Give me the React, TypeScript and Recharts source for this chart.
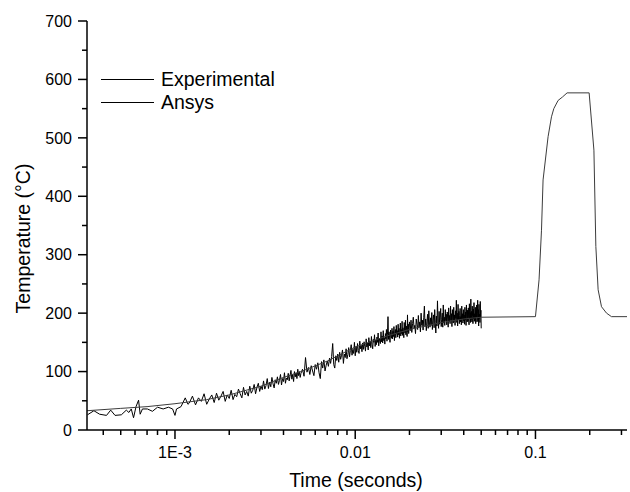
import React from "react";
import { LineChart, Line, XAxis, YAxis } from "recharts";

const FONT = "'Liberation Sans', Arial, Helvetica, sans-serif";

const X_DOMAIN: [number, number] = [0.000325, 0.322];
const Y_DOMAIN: [number, number] = [0, 700];

const xMajorTicks = [0.001, 0.01, 0.1];
const xTickLabels = ["1E-3", "0.01", "0.1"];
const xMinorTicks = [
  0.0004, 0.0005, 0.0006, 0.0007, 0.0008, 0.0009,
  0.002, 0.003, 0.004, 0.005, 0.006, 0.007, 0.008, 0.009,
  0.02, 0.03, 0.04, 0.05, 0.06, 0.07, 0.08, 0.09,
  0.2, 0.3,
];
const yMajorTicks = [0, 100, 200, 300, 400, 500, 600, 700];
const yMinorTicks = [50, 150, 250, 350, 450, 550, 650];

const seriesNames = ["Experimental", "Ansys"];
const xTitle = "Time (seconds)";
const yTitle = "Temperature (°C)";

// Experimental: sparse early samples
const expEarlyTimes = [
  0.000327, 0.000355, 0.000382, 0.000417, 0.00044, 0.000465, 0.000504, 0.000537,
  0.000555, 0.000572, 0.000589, 0.000608, 0.000628, 0.000641, 0.00066, 0.000703,
  0.00075, 0.0008, 0.00086, 0.00092, 0.00097, 0.001, 0.00102, 0.00108, 0.00114, 0.00118,
];
const expEarlyValues = [
  26, 33, 27, 25, 34, 25, 26, 34,
  30, 36, 21, 40, 51, 27, 36, 36,
  32, 39, 36, 39, 36, 25, 36, 40, 55, 44,
];

// Experimental: regularly sampled segments (start, step, values)
const expSeg1Start = 0.0012;
const expSeg1Step = 0.00005;
const expSeg1Values = [
  46, 58, 43, 55, 49, 62, 44, 53, 60, 47,
  63, 51, 58, 66, 49, 60, 54, 68, 52, 61,
  57, 70, 62, 55, 73, 60, 66, 58, 75, 63,
  68, 78, 62, 73, 80, 66, 75, 69, 84, 70,
  76, 88, 71, 82, 74, 90, 79, 72, 86, 80,
  91, 78, 85, 95, 77, 88, 83, 98, 80, 89,
  86, 97, 84, 93, 102, 87, 95, 83, 100, 91,
  98, 88, 104, 93, 100, 90, 97,
];

const expSeg2Start = 0.0051;
const expSeg2Step = 0.0001;
const expSeg2Values = [
  104, 92, 124, 99, 107, 95, 110, 101, 93, 112,
  104, 115, 98, 88, 117, 106, 120, 101, 111, 118,
  109, 123, 114, 126, 148, 112, 106, 127, 119, 130,
  116, 133, 121, 128, 137, 114, 130, 124, 139, 122,
  129, 141, 125, 136, 146, 128, 138, 131, 150, 127,
  143, 133, 148, 136, 131, 152, 139, 145, 134, 149,
  138, 151, 143, 135, 156, 142, 149, 137, 158, 144,
  152, 141, 160, 146, 139, 155, 150, 163, 143, 154,
  146, 159, 150, 166, 144, 157, 152, 148, 168, 151,
  161, 149, 170, 153, 158, 147, 165, 156, 172, 152,
  163, 194, 155, 168, 159, 150, 171, 162, 157, 174,
  156, 169, 160, 177, 153, 166, 172, 158, 179, 164,
  170, 159, 181, 163, 174, 157, 168, 183, 161, 172,
  165, 186, 162, 175, 169, 158, 184, 171, 166, 188,
  163, 178, 172, 160, 197, 168, 181, 165, 176, 185,
];

const expSeg3Start = 0.0202;
const expSeg3Step = 0.0002;
const expSeg3Values = [
  170, 188, 167, 182, 193, 174, 179, 165, 190, 181,
  172, 196, 176, 185, 168, 200, 179, 188, 171, 193,
  212, 177, 190, 170, 185, 198, 174, 204, 183, 176,
  192, 179, 201, 172, 188, 197, 175, 206, 184, 166,
  195, 178, 221, 186, 174, 203, 181, 192, 208, 177,
  189, 200, 176, 214, 183, 193, 179, 206, 187, 198,
  180, 202, 190, 176, 209, 185, 196, 182, 212, 188,
  199, 177, 206, 190, 183, 210, 186, 197, 179, 204,
  191, 222, 184, 200, 178, 215, 189, 203, 182, 196,
  208, 185, 194, 180, 212, 190, 199, 183, 206, 187,
  197, 181, 210, 188, 202, 179, 214, 192, 185, 205,
  186, 209, 193, 180, 216, 190, 201, 184, 224, 189,
  203, 185, 212, 194, 182, 207, 190, 218, 186, 199,
  188, 210, 182, 204, 193, 214, 185, 200, 222, 187,
  206, 178, 215, 191, 198, 184, 220, 193, 205, 174,
];

// Ansys simulation
const ansysTimes = [
  0.000325, 0.0005, 0.0007, 0.001, 0.0015, 0.002, 0.003, 0.004, 0.005, 0.007,
  0.01, 0.015, 0.02, 0.03, 0.04, 0.05, 0.1, 0.1047, 0.108, 0.1102,
  0.1175, 0.1227, 0.1264, 0.1335, 0.1413, 0.1498, 0.1985, 0.211, 0.2163, 0.2227,
  0.2325, 0.248, 0.264, 0.322,
];
const ansysValues = [
  33, 37, 40, 45, 52, 60, 75, 90, 100, 118,
  142, 161, 172, 184, 190, 193, 194, 257, 342, 428,
  502, 536, 550, 564, 570, 577, 577, 479, 314, 240,
  211, 200, 194, 194,
];

type Pt = { t: number; v: number };

const buildSeg = (start: number, step: number, values: number[]): Pt[] =>
  values.map((v, i) => ({ t: start + i * step, v }));

const expData: Pt[] = [
  ...expEarlyTimes.map((t, i) => ({ t, v: expEarlyValues[i] })),
  ...buildSeg(expSeg1Start, expSeg1Step, expSeg1Values),
  ...buildSeg(expSeg2Start, expSeg2Step, expSeg2Values),
  ...buildSeg(expSeg3Start, expSeg3Step, expSeg3Values),
];
const ansysData: Pt[] = ansysTimes.map((t, i) => ({ t, v: ansysValues[i] }));

const xAllTicks = [...xMinorTicks, ...xMajorTicks].sort((a, b) => a - b);
const yAllTicks = [...yMinorTicks, ...yMajorTicks].sort((a, b) => a - b);

const STROKE = "#000";

const BottomTick = (props: any) => {
  const { x, y, payload } = props;
  const mi = xMajorTicks.indexOf(payload.value);
  const major = mi >= 0;
  return (
    <g>
      <line x1={x} x2={x} y1={y} y2={y + (major ? 9 : 5)} stroke={STROKE} strokeWidth={1.5} />
      {major && (
        <text x={x} y={y + 28} textAnchor="middle" fontSize={16} fontFamily={FONT} fill="#000">
          {xTickLabels[mi]}
        </text>
      )}
    </g>
  );
};

const TopTick = (props: any) => {
  const { x, y, payload } = props;
  const major = xMajorTicks.indexOf(payload.value) >= 0;
  return <line x1={x} x2={x} y1={y} y2={y + (major ? 8 : 3)} stroke={STROKE} strokeWidth={1.5} />;
};

const LeftTick = (props: any) => {
  const { x, y, payload } = props;
  const major = payload.value % 100 === 0;
  return (
    <g>
      <line x1={x - (major ? 9 : 5)} x2={x} y1={y} y2={y} stroke={STROKE} strokeWidth={1.5} />
      {major && (
        <text x={x - 15} y={y} dy="0.36em" textAnchor="end" fontSize={16} fontFamily={FONT} fill="#000">
          {payload.value}
        </text>
      )}
    </g>
  );
};

const RightTick = (props: any) => {
  const { x, y, payload } = props;
  const major = payload.value % 100 === 0;
  return <line x1={x - (major ? 8 : 3)} x2={x} y1={y} y2={y} stroke={STROKE} strokeWidth={1.5} />;
};

const YTitle = (props: any) => {
  const vb = props.viewBox || { x: 0, y: 21, width: 87, height: 409 };
  const cx = vb.x + 30;
  const cy = vb.y + vb.height / 2 + 13;
  return (
    <text
      x={cx}
      y={cy}
      transform={`rotate(-90 ${cx} ${cy})`}
      textAnchor="middle"
      fontSize={19.5}
      fontFamily={FONT}
      fill="#000"
    >
      {yTitle}
    </text>
  );
};

const XTitle = (props: any) => {
  const vb = props.viewBox || { x: 87, y: 430, width: 540, height: 62 };
  return (
    <text
      x={vb.x + vb.width / 2 - 1}
      y={vb.y + 57}
      textAnchor="middle"
      fontSize={19.5}
      fontFamily={FONT}
      fill="#000"
    >
      {xTitle}
    </text>
  );
};

const axisLineStyle = { stroke: STROKE, strokeWidth: 1.5 };

export default function App() {
  return (
    <div style={{ position: "absolute", left: 0, top: 0, width: 630, height: 492, background: "#fff" }}>
      <LineChart width={630} height={492} margin={{ top: 21, right: 3, bottom: 0, left: 0 }}>
        <XAxis
          xAxisId="main"
          dataKey="t"
          type="number"
          scale="log"
          domain={X_DOMAIN}
          allowDataOverflow
          ticks={xAllTicks}
          interval={0}
          tick={<BottomTick />}
          tickLine={false}
          tickSize={0}
          tickMargin={0}
          axisLine={axisLineStyle}
          height={62}
          label={<XTitle />}
        />
        <XAxis
          xAxisId="top"
          orientation="top"
          type="number"
          scale="log"
          domain={X_DOMAIN}
          allowDataOverflow
          ticks={xAllTicks}
          interval={0}
          tick={<TopTick />}
          tickLine={false}
          tickSize={0}
          tickMargin={0}
          axisLine={axisLineStyle}
          height={0}
        />
        <YAxis
          yAxisId="left"
          type="number"
          domain={Y_DOMAIN}
          allowDataOverflow
          ticks={yAllTicks}
          interval={0}
          tick={<LeftTick />}
          tickLine={false}
          tickSize={0}
          tickMargin={0}
          axisLine={axisLineStyle}
          width={87}
          label={<YTitle />}
        />
        <YAxis
          yAxisId="right"
          orientation="right"
          type="number"
          domain={Y_DOMAIN}
          allowDataOverflow
          ticks={yAllTicks}
          interval={0}
          tick={<RightTick />}
          tickLine={false}
          tickSize={0}
          tickMargin={0}
          axisLine={axisLineStyle}
          width={0}
        />
        <Line
          xAxisId="main"
          yAxisId="left"
          data={expData}
          dataKey="v"
          name={seriesNames[0]}
          type="linear"
          stroke="#000"
          strokeWidth={1}
          dot={false}
          activeDot={false}
          isAnimationActive={false}
        />
        <Line
          xAxisId="main"
          yAxisId="left"
          data={ansysData}
          dataKey="v"
          name={seriesNames[1]}
          type="linear"
          stroke="#3c3c3c"
          strokeWidth={1}
          dot={false}
          activeDot={false}
          isAnimationActive={false}
        />
      </LineChart>
      <div
        style={{
          position: "absolute",
          left: 101,
          top: 67.5,
          fontFamily: FONT,
          fontSize: 19.5,
          color: "#000",
        }}
      >
        {seriesNames.map((name) => (
          <div key={name} style={{ display: "flex", alignItems: "center", height: 23, whiteSpace: "nowrap" }}>
            <div style={{ width: 53, height: 0, borderTop: "1px solid #000", marginRight: 7 }} />
            <span style={{ lineHeight: "23px" }}>{name}</span>
          </div>
        ))}
      </div>
    </div>
  );
}
